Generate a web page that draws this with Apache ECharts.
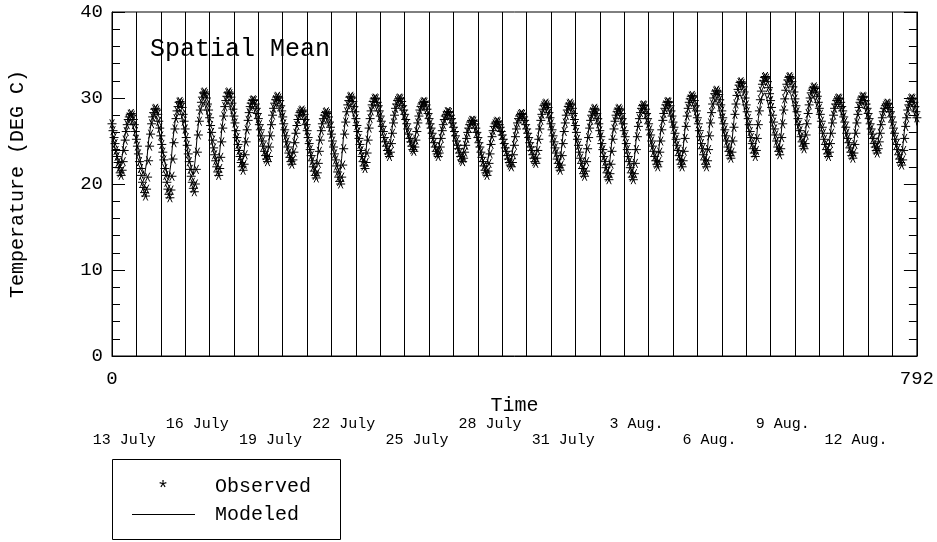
<!DOCTYPE html>
<html>
<head>
<meta charset="utf-8">
<script src="https://cdn.jsdelivr.net/npm/echarts@6/dist/echarts.min.js"></script>
<style>
html,body{margin:0;padding:0;background:#fff;}
#chart{width:937px;height:542px;}
</style>
</head>
<body>
<div id="chart"></div>
<script>
// ---- Data ----
const titleText = 'Spatial Mean';
const xTickLabels = [0, 792];
const yTicks = { min: 0, max: 40, step: 10 };
const observedStepHours = 1;   // one observation per hour, starting at hour 0
const modeledStepHours = 2;    // modeled curve sampled every 2 hours

// Observed hourly spatial-mean temperature (deg C), one row per day (hours 0..23), plus final hour 792
const observed = [
27.0,26.2,25.4,24.7,23.9,23.2,22.5,21.9,21.3,21.0,21.6,22.6,23.9,25.1,26.1,26.9,27.5,27.8,28.1,28.2,28.0,27.5,26.9,26.1,
25.2,24.4,23.5,22.6,21.8,21.0,20.2,19.6,19.0,18.6,19.4,20.8,22.7,24.4,25.8,27.0,27.8,28.3,28.7,28.8,28.6,28.1,27.3,26.5,
25.6,24.6,23.7,22.8,21.8,21.0,20.2,19.4,18.8,18.4,19.3,20.9,22.9,24.8,26.4,27.6,28.5,29.0,29.5,29.6,29.4,28.9,28.1,27.3,
26.4,25.4,24.5,23.5,22.6,21.7,20.9,20.2,19.5,19.1,20.0,21.7,23.7,25.7,27.3,28.6,29.5,30.1,30.6,30.7,30.5,30.0,29.3,28.6,
27.7,26.8,26.0,25.1,24.2,23.4,22.7,22.0,21.4,21.0,21.8,23.1,24.9,26.5,27.9,29.0,29.7,30.2,30.6,30.7,30.5,30.1,29.4,28.7,
27.9,27.1,26.2,25.4,24.6,23.9,23.2,22.5,22.0,21.6,22.3,23.4,24.9,26.3,27.4,28.3,29.0,29.4,29.7,29.8,29.7,29.3,28.8,28.2,
27.6,26.9,26.3,25.6,25.0,24.4,23.8,23.3,22.9,22.6,23.2,24.3,25.6,26.9,28.0,28.8,29.4,29.8,30.1,30.2,30.0,29.7,29.1,28.5,
27.8,27.0,26.3,25.6,24.9,24.3,23.6,23.1,22.6,22.3,22.8,23.7,24.8,25.9,26.8,27.5,28.0,28.3,28.5,28.6,28.4,28.1,27.5,26.9,
26.2,25.4,24.7,24.0,23.3,22.7,22.0,21.5,21.0,20.7,21.3,22.4,23.8,25.1,26.2,27.0,27.6,28.0,28.3,28.4,28.2,27.8,27.2,26.6,
25.8,25.0,24.3,23.5,22.8,22.1,21.4,20.8,20.3,20.0,20.8,22.2,24.1,25.8,27.2,28.4,29.2,29.7,30.1,30.2,30.0,29.6,29.0,28.4,
27.6,26.8,26.1,25.3,24.6,23.9,23.2,22.6,22.1,21.8,22.5,23.6,25.1,26.5,27.6,28.5,29.2,29.6,29.9,30.0,29.9,29.5,29.1,28.5,
27.9,27.3,26.7,26.1,25.4,24.9,24.4,23.9,23.5,23.2,23.7,24.7,25.9,27.1,28.0,28.8,29.3,29.7,29.9,30.0,29.9,29.6,29.1,28.6,
28.1,27.5,27.0,26.4,25.8,25.3,24.9,24.4,24.0,23.8,24.3,25.1,26.1,27.1,27.9,28.6,29.0,29.3,29.5,29.6,29.5,29.2,28.7,28.2,
27.6,27.0,26.5,25.9,25.3,24.8,24.3,23.8,23.5,23.2,23.6,24.3,25.3,26.2,26.9,27.5,27.9,28.1,28.4,28.4,28.3,28.0,27.6,27.1,
26.6,26.1,25.6,25.0,24.5,24.1,23.6,23.2,22.8,22.6,23.0,23.7,24.5,25.3,26.0,26.5,26.9,27.2,27.4,27.4,27.3,27.0,26.5,26.0,
25.4,24.8,24.3,23.7,23.1,22.6,22.1,21.6,21.3,21.0,21.5,22.4,23.5,24.6,25.5,26.2,26.7,27.0,27.2,27.3,27.2,26.9,26.6,26.1,
25.7,25.2,24.7,24.2,23.8,23.3,22.9,22.5,22.2,22.0,22.5,23.4,24.5,25.5,26.4,27.1,27.6,27.9,28.1,28.2,28.1,27.8,27.4,26.9,
26.4,25.9,25.4,24.8,24.3,23.9,23.4,23.0,22.6,22.4,23.0,23.9,25.2,26.4,27.4,28.1,28.7,29.1,29.3,29.4,29.2,28.9,28.3,27.7,
27.0,26.3,25.6,24.9,24.2,23.6,22.9,22.4,21.9,21.6,22.2,23.3,24.7,26.1,27.1,28.0,28.6,29.0,29.3,29.4,29.2,28.8,28.2,27.5,
26.8,26.0,25.2,24.5,23.7,23.0,22.4,21.8,21.2,20.9,21.5,22.6,24.1,25.4,26.5,27.4,28.0,28.4,28.7,28.8,28.6,28.2,27.6,27.0,
26.2,25.5,24.7,24.0,23.2,22.6,21.9,21.3,20.8,20.5,21.2,22.3,23.8,25.2,26.4,27.3,28.0,28.4,28.7,28.8,28.6,28.2,27.6,27.0,
26.2,25.5,24.7,24.0,23.2,22.6,21.9,21.3,20.8,20.5,21.2,22.4,24.0,25.5,26.7,27.6,28.3,28.8,29.1,29.2,29.1,28.7,28.2,27.6,
27.0,26.3,25.7,25.0,24.4,23.8,23.2,22.7,22.3,22.0,22.6,23.7,25.0,26.3,27.4,28.2,28.8,29.2,29.5,29.6,29.5,29.1,28.5,27.9,
27.2,26.6,25.9,25.2,24.5,23.9,23.3,22.8,22.3,22.0,22.7,23.8,25.3,26.7,27.9,28.8,29.5,29.9,30.2,30.3,30.1,29.7,29.1,28.5,
27.7,27.0,26.2,25.5,24.7,24.1,23.4,22.8,22.3,22.0,22.7,24.0,25.6,27.1,28.3,29.3,30.0,30.5,30.8,30.9,30.7,30.4,29.8,29.2,
28.5,27.7,27.0,26.3,25.6,25.0,24.3,23.8,23.3,23.0,23.7,25.0,26.6,28.1,29.3,30.3,31.0,31.5,31.8,31.9,31.7,31.3,30.7,30.0,
29.2,28.4,27.6,26.9,26.1,25.4,24.7,24.1,23.6,23.2,23.9,25.3,26.9,28.5,29.8,30.8,31.6,32.0,32.4,32.5,32.3,31.9,31.2,30.5,
29.7,28.9,28.0,27.2,26.4,25.7,25.0,24.3,23.8,23.4,24.1,25.4,27.0,28.6,29.9,30.9,31.6,32.1,32.4,32.5,32.3,31.9,31.3,30.7,
29.9,29.1,28.4,27.6,26.9,26.2,25.5,24.9,24.4,24.1,24.7,25.7,27.0,28.2,29.2,30.0,30.6,30.9,31.2,31.3,31.1,30.7,30.2,29.5,
28.8,28.1,27.3,26.6,25.9,25.2,24.6,24.0,23.5,23.2,23.7,24.7,25.9,27.1,28.0,28.8,29.3,29.7,29.9,30.0,29.9,29.5,29.0,28.5,
27.8,27.2,26.6,25.9,25.3,24.8,24.2,23.7,23.3,23.0,23.6,24.6,25.9,27.1,28.1,28.9,29.5,29.8,30.1,30.2,30.1,29.7,29.3,28.8,
28.2,27.6,27.0,26.4,25.8,25.3,24.7,24.3,23.9,23.6,24.1,24.9,25.9,26.9,27.7,28.4,28.8,29.1,29.3,29.4,29.3,28.9,28.4,27.8,
27.2,26.5,25.9,25.2,24.6,24.0,23.4,22.9,22.5,22.2,22.8,23.9,25.3,26.7,27.7,28.6,29.2,29.6,29.9,30.0,29.9,29.5,29.0,28.4,
27.7
];

// Modeled spatial-mean temperature (deg C), every 2 hours, one row per day (hours 0,2,...,22), plus final hour 792
const modeled = [
25.9,24.7,23.6,22.7,22.0,23.2,25.1,26.5,27.2,27.5,27.0,26.1,
24.9,23.7,22.6,21.7,21.0,22.5,25.0,26.7,27.7,28.0,27.5,26.4,
25.1,23.8,22.5,21.4,20.7,22.4,25.2,27.2,28.2,28.6,28.1,26.9,
25.6,24.2,22.9,21.8,21.0,22.9,25.9,28.0,29.1,29.5,29.0,27.9,
26.5,25.2,23.9,22.8,22.0,23.7,26.3,28.2,29.2,29.6,29.1,28.0,
26.7,25.4,24.1,23.0,22.3,23.8,26.1,27.8,28.7,29.0,28.6,27.7,
26.6,25.5,24.5,23.6,23.0,24.4,26.6,28.2,29.0,29.3,28.9,27.9,
26.7,25.5,24.4,23.5,22.8,23.9,25.8,27.1,27.7,28.0,27.6,26.6,
25.4,24.3,23.2,22.2,21.6,23.0,25.1,26.7,27.5,27.8,27.3,26.4,
25.2,24.0,22.9,21.9,21.2,23.0,25.8,27.8,28.8,29.2,28.7,27.7,
26.5,25.3,24.1,23.1,22.4,23.9,26.3,28.0,28.9,29.2,28.8,28.0,
27.0,26.0,25.0,24.2,23.6,24.8,26.8,28.2,28.9,29.2,28.8,28.1,
27.1,26.2,25.3,24.5,24.0,25.1,26.8,28.0,28.7,28.9,28.5,27.7,
26.8,25.8,24.9,24.1,23.6,24.5,26.0,27.0,27.6,27.8,27.5,26.7,
25.9,25.0,24.2,23.5,23.0,23.9,25.3,26.3,26.8,27.0,26.6,25.9,
24.9,24.0,23.1,22.3,21.8,22.9,24.7,26.0,26.7,26.9,26.6,25.9,
25.1,24.4,23.6,22.9,22.5,23.7,25.5,26.9,27.5,27.8,27.5,26.7,
25.8,24.9,24.1,23.3,22.8,24.1,26.2,27.7,28.5,28.8,28.3,27.4,
26.2,25.0,23.9,22.9,22.2,23.7,26.0,27.6,28.5,28.8,28.3,27.2,
25.9,24.6,23.4,22.3,21.6,23.1,25.4,27.0,27.9,28.2,27.7,26.7,
25.4,24.2,23.0,22.0,21.3,22.8,25.2,27.0,27.9,28.2,27.7,26.7,
25.4,24.2,23.0,22.0,21.3,22.9,25.5,27.3,28.2,28.6,28.2,27.3,
26.2,25.1,24.0,23.1,22.5,23.9,26.2,27.8,28.7,29.0,28.6,27.6,
26.4,25.2,24.1,23.2,22.5,24.1,26.6,28.3,29.3,29.6,29.1,28.1,
26.8,25.5,24.4,23.3,22.6,24.2,26.7,28.5,29.4,29.8,29.4,28.4,
27.2,26.1,25.0,24.0,23.4,24.9,27.4,29.1,30.1,30.4,29.9,28.9,
27.7,26.5,25.3,24.3,23.6,25.1,27.6,29.3,30.3,30.6,30.1,29.1,
27.9,26.7,25.5,24.5,23.8,25.3,27.8,29.5,30.5,30.8,30.4,29.4,
28.2,27.0,25.9,25.0,24.3,25.6,27.7,29.1,29.9,30.2,29.7,28.8,
27.6,26.4,25.3,24.3,23.6,24.9,26.9,28.3,29.0,29.3,28.9,28.0,
26.9,25.9,24.9,24.0,23.4,24.7,26.9,28.4,29.2,29.5,29.1,28.3,
27.3,26.3,25.3,24.5,23.9,25.0,26.8,28.0,28.7,28.9,28.5,27.6,
26.5,25.4,24.3,23.4,22.8,24.2,26.5,28.1,29.0,29.3,28.9,27.9,
26.8
];

// Date labels (placed at mid-day of the labelled day, hours from start)
const dateLabelsUpper = ['16 July', '22 July', '28 July', '3 Aug.', '9 Aug.'];
const dateHoursUpper  = [84, 228, 372, 516, 660];
const dateLabelsLower = ['13 July', '19 July', '25 July', '31 July', '6 Aug.', '12 Aug.'];
const dateHoursLower  = [12, 156, 300, 444, 588, 732];

const legendObserved = 'Observed';
const legendModeled = 'Modeled';

// ---- Chart ----
const FONT = 'Liberation Mono';
const chart = echarts.init(document.getElementById('chart'), null, { renderer: 'canvas' });

const observedData = observed.map((v, i) => [i * observedStepHours, v]);
const modeledData = modeled.map((v, i) => [i * modeledStepHours, v]);

function lookup(hours, labels) {
  return function (v) {
    const k = hours.indexOf(Math.round(v));
    return k >= 0 ? labels[k] : '';
  };
}

const asterisk = 'path://M-1,0L1,0M-0.5,-0.866L0.5,0.866M-0.5,0.866L0.5,-0.866';

function yAxisDef(pos, withLabels) {
  const def = {
    type: 'value', min: yTicks.min, max: yTicks.max, interval: yTicks.step,
    position: pos,
    axisLine: { show: true, onZero: false, lineStyle: { color: '#000', width: 1 } },
    axisTick: { show: true, inside: true, length: 13, lineStyle: { color: '#000', width: 1 } },
    minorTick: { show: true, splitNumber: 5, length: 8, lineStyle: { color: '#000', width: 1 } },
    splitLine: { show: false },
    axisLabel: withLabels
      ? { show: true, fontFamily: FONT, fontSize: 19, color: '#000', margin: 9 }
      : { show: false }
  };
  if (withLabels) {
    def.name = 'Temperature (DEG C)';
    def.nameLocation = 'middle';
    def.nameGap = 84;
    def.nameRotate = 90;
    def.nameTextStyle = { fontFamily: FONT, fontSize: 20, color: '#000' };
  }
  return def;
}

function dateAxis(hours, labels, margin) {
  return {
    type: 'value', min: 0, max: 792, position: 'bottom',
    axisLine: { show: false, onZero: false }, axisTick: { show: false }, splitLine: { show: false },
    axisLabel: {
      customValues: hours, formatter: lookup(hours, labels),
      fontFamily: FONT, fontSize: 15, color: '#000', margin: margin
    }
  };
}

const option = {
  animation: false,
  backgroundColor: '#ffffff',
  title: {
    text: titleText, left: 150, top: 37, padding: 0,
    textStyle: { fontFamily: FONT, fontSize: 25, fontWeight: 'normal', color: '#000' }
  },
  grid: { left: 112, right: 20, top: 12, bottom: 186, show: true, borderColor: '#000', borderWidth: 1, backgroundColor: 'transparent' },
  xAxis: [
    {
      type: 'value', min: 0, max: 792, interval: 24, position: 'bottom',
      axisLine: { show: true, onZero: false, lineStyle: { color: '#000', width: 1 } },
      axisTick: { show: false },
      splitLine: { show: true, lineStyle: { color: '#000', width: 1 } },
      axisLabel: {
        customValues: xTickLabels, fontFamily: FONT, fontSize: 19, color: '#000', margin: 13,
        formatter: v => String(v)
      },
      name: 'Time', nameLocation: 'middle', nameGap: 40,
      nameTextStyle: { fontFamily: FONT, fontSize: 20, color: '#000' }
    },
    dateAxis(dateHoursUpper, dateLabelsUpper, 61),
    dateAxis(dateHoursLower, dateLabelsLower, 77)
  ],
  yAxis: [ yAxisDef('left', true), yAxisDef('right', false) ],
  series: [
    {
      name: legendModeled, type: 'line', xAxisIndex: 0, yAxisIndex: 0,
      data: modeledData, showSymbol: false, symbol: 'none',
      lineStyle: { color: '#000', width: 1 }, z: 3
    },
    {
      name: legendObserved, type: 'scatter', xAxisIndex: 0, yAxisIndex: 0,
      data: observedData, symbol: asterisk, symbolSize: 9,
      itemStyle: { color: 'rgba(0,0,0,0)', borderColor: '#000', borderWidth: 1, opacity: 1 },
      emphasis: { disabled: true }, z: 4
    }
  ],
  graphic: [
    { type: 'rect', shape: { x: 112.5, y: 459.5, width: 228, height: 80 }, style: { fill: '#fff', stroke: '#000', lineWidth: 1 }, z: 10 },
    { type: 'text', x: 163, y: 490, style: { text: '*', font: '20px "Liberation Mono"', fill: '#000', textAlign: 'center', textVerticalAlign: 'middle' }, z: 11 },
    { type: 'text', x: 215, y: 487, style: { text: legendObserved, font: '20px "Liberation Mono"', fill: '#000', textAlign: 'left', textVerticalAlign: 'middle' }, z: 11 },
    { type: 'line', shape: { x1: 132, y1: 514.5, x2: 195, y2: 514.5 }, style: { stroke: '#000', lineWidth: 1 }, z: 11 },
    { type: 'text', x: 215, y: 515, style: { text: legendModeled, font: '20px "Liberation Mono"', fill: '#000', textAlign: 'left', textVerticalAlign: 'middle' }, z: 11 }
  ]
};

chart.setOption(option);
</script>
</body>
</html>
